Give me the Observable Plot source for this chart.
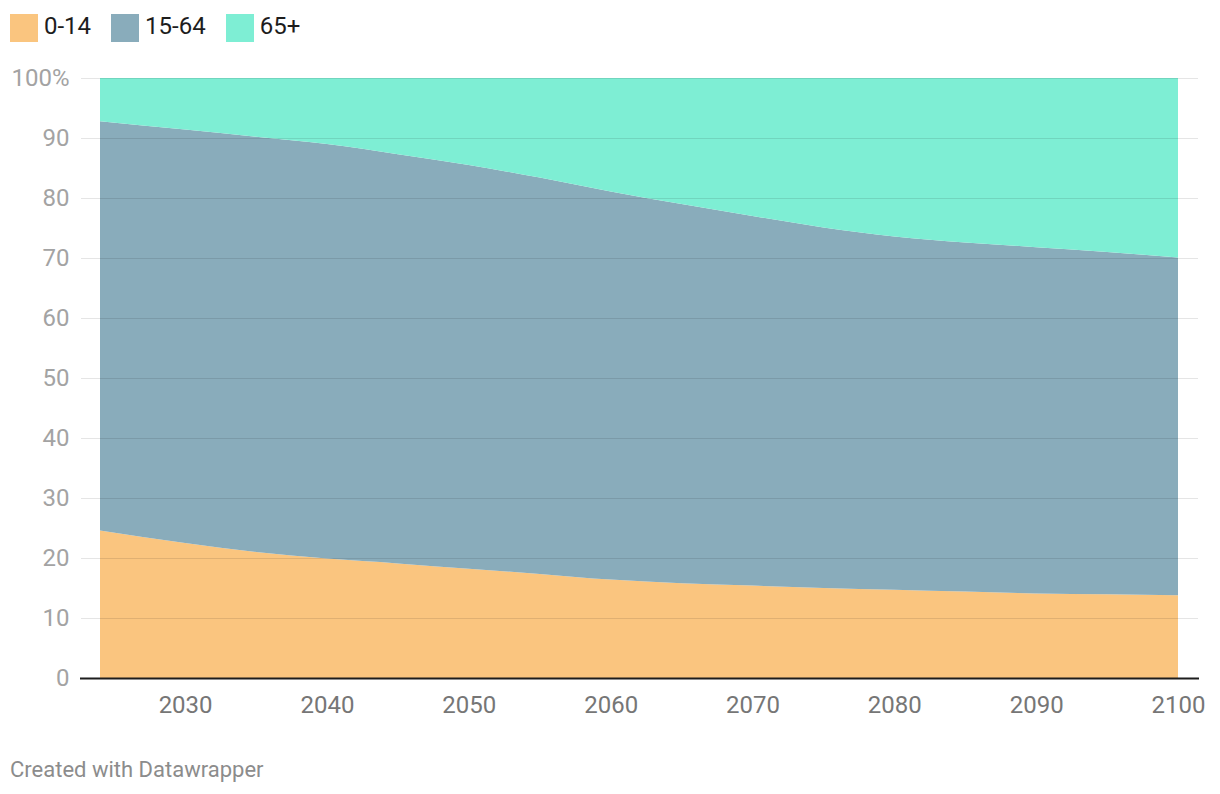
<!DOCTYPE html>
<html>
<head>
<meta charset="utf-8">
<script src="https://cdn.jsdelivr.net/npm/d3@7"></script>
<script src="https://cdn.jsdelivr.net/npm/@observablehq/plot@0.6"></script>
<style>
  html, body { margin: 0; padding: 0; background: #fff; }
  body { width: 1220px; height: 794px; overflow: hidden; font-family: Roboto, sans-serif; }
  #legend { height: 56px; box-sizing: border-box; padding: 14px 0 0 10px; display: flex; align-items: flex-start; }
  .item { display: flex; align-items: flex-start; margin-right: 20px; }
  .sw { width: 28px; height: 28px; }
  .lab { font-size: 24px; line-height: 28px; color: #1d1d1d; margin-left: 6px; position: relative; top: -2px; }
  #chart svg { display: block; overflow: visible; }
  #caption { margin-top: 23px; padding-left: 10px; font-size: 22px; line-height: 22px; color: #8c8c8c; }
</style>
</head>
<body>
<div id="legend"></div>
<div id="chart"></div>
<div id="caption">Created with Datawrapper</div>
<script>
const years = [2024, 2030, 2035, 2040, 2045, 2050, 2055, 2060, 2065, 2070, 2075, 2080, 2085, 2090, 2095, 2100];
const groups = ["0-14", "15-64", "65+"];
const colors = ["#fac57f", "#89acbb", "#7eeed4"];
const age0to14 = [24.6, 22.5, 21.0, 19.9, 19.1, 18.2, 17.35, 16.4, 15.8, 15.4, 15.0, 14.7, 14.4, 14.1, 13.95, 13.8];
const age15to64 = [68.2, 68.9, 69.2, 69.1, 68.2, 67.3, 66.05, 64.7, 63.2, 61.6, 60.1, 58.9, 58.2, 57.7, 57.05, 56.3];
const age65plus = [7.2, 8.6, 9.8, 11.0, 12.7, 14.5, 16.6, 18.9, 21.0, 23.0, 24.9, 26.4, 27.4, 28.2, 29.0, 29.9];
const xTicks = [2030, 2040, 2050, 2060, 2070, 2080, 2090, 2100];
const yTicks = [0, 10, 20, 30, 40, 50, 60, 70, 80, 90, 100];

const series = [age0to14, age15to64, age65plus];
const data = [];
groups.forEach((g, gi) => years.forEach((y, i) => data.push({year: y, group: g, value: series[gi][i]})));

// legend
const legend = document.getElementById("legend");
groups.forEach((g, i) => {
  const it = document.createElement("div");
  it.className = "item";
  it.innerHTML = `<div class="sw" style="background:${colors[i]}"></div><span class="lab">${g}</span>`;
  legend.appendChild(it);
});

const chart = Plot.plot({
  width: 1220,
  height: 680,
  marginLeft: 100,
  marginRight: 42,
  marginTop: 22,
  marginBottom: 58,
  style: {fontFamily: "Roboto, sans-serif", background: "transparent", overflow: "visible"},
  x: {domain: [2024, 2100], label: null},
  y: {domain: [0, 100], label: null},
  color: {domain: groups, range: colors},
  marks: [
    Plot.areaY(data, {x: "year", y: "value", fill: "group", z: "group", curve: "monotone-x"}),
    Plot.ruleY(yTicks.filter(d => d > 0), {stroke: "#000", strokeOpacity: 0.1, strokeWidth: 1, insetLeft: -19, insetRight: -20}),
    Plot.ruleY([0], {stroke: "#1d1d1d", strokeWidth: 2, insetLeft: -20, insetRight: -21}),
    Plot.axisY({ticks: yTicks, tickSize: 0, tickPadding: 31, fontSize: 24, fill: "#a3a3a3", label: null,
      tickFormat: d => d === 100 ? "100%" : String(d)}),
    Plot.axisX({ticks: xTicks, tickSize: 0, tickPadding: 17, fontSize: 24, fill: "#767676", label: null,
      tickFormat: d => String(d)})
  ]
});
document.getElementById("chart").appendChild(chart);
</script>
</body>
</html>
